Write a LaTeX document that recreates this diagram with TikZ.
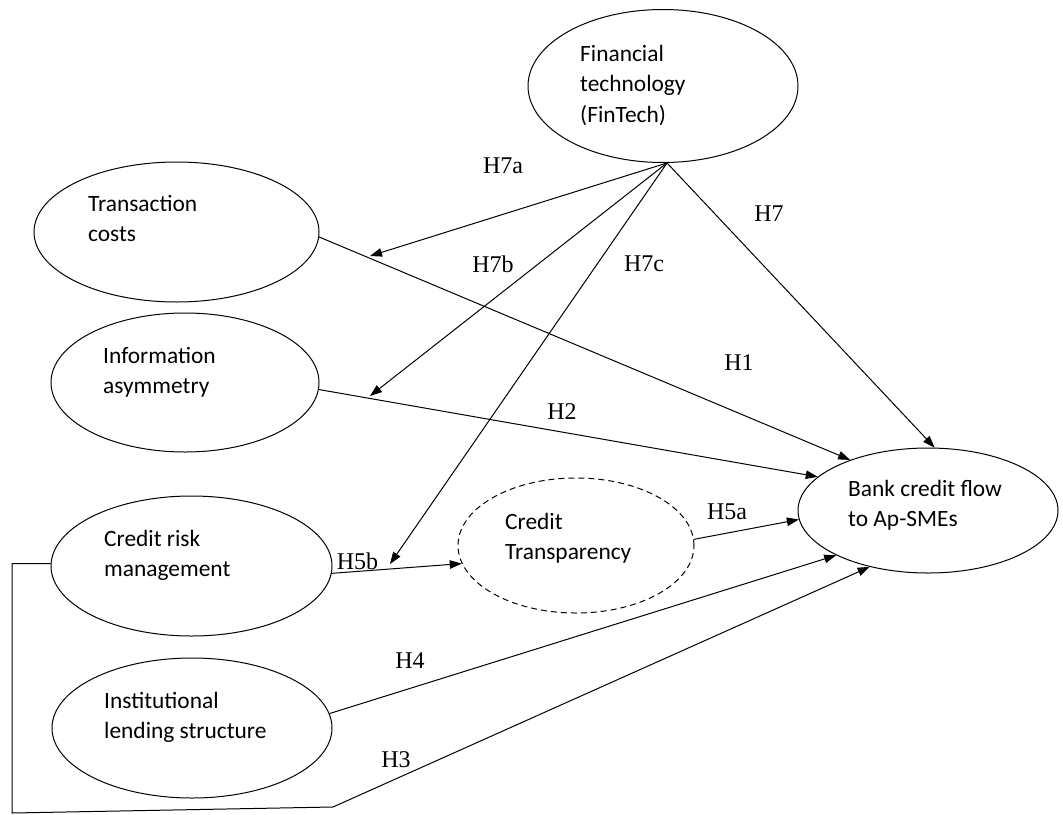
\documentclass[tikz,border=0pt]{standalone}
\usepackage{fontspec}
\setmainfont{Liberation Serif}
\newfontfamily\carl{Carlito}
\usetikzlibrary{shapes.geometric,arrows.meta}
\begin{document}
\begin{tikzpicture}[x=1pt,y=-1pt,
  oval/.style={draw, ellipse, inner sep=0pt, line width=1pt},
  ovtext/.style={anchor=north west, align=left, inner sep=0pt, font=\fontsize{23.4}{30.5}\carl},
  hyp/.style={inner sep=0pt, font=\fontsize{24}{28}\selectfont},
  arr/.style={line width=1pt, -{Triangle[length=12pt,width=8.5pt]}},
  plain/.style={line width=1pt}]
\useasboundingbox (0,0) rectangle (1063,814);
% ellipses
\node[oval, minimum width=270pt, minimum height=153pt] (fin) at (663,86) {};
\node[oval, minimum width=285pt, minimum height=140pt] (tc) at (176.5,232) {};
\node[oval, minimum width=268pt, minimum height=139pt] (ia) at (185,382.5) {};
\node[oval, minimum width=281pt, minimum height=140pt] (crm) at (191.5,566) {};
\node[oval, minimum width=280pt, minimum height=140pt] (ils) at (192,728) {};
\node[oval, dash pattern=on 6pt off 4pt, minimum width=236pt, minimum height=135pt] (ct) at (576,545.5) {};
\node[oval, minimum width=260pt, minimum height=125pt] (bank) at (928,510.5) {};
% texts
\node[ovtext] (finT) at (580,45) {Financial\\technology\\(FinTech)};
\node[ovtext] (tcT) at (88,195) {Transaction\\costs};
\node[ovtext] (iaT) at (103,347) {Information\\asymmetry};
\node[ovtext] (crmT) at (104,530) {Credit risk\\management};
\node[ovtext] (ilsT) at (104,692) {Institutional\\lending structure};
\node[ovtext] (ctT) at (505,513) {Credit\\Transparency};
\node[ovtext] (bankT) at (848,480) {Bank credit flow\\to Ap-SMEs};
% helper coordinates
\coordinate (m1) at (370,256);
\coordinate (m2) at (370,396);
\coordinate (m3) at (390,564);
\coordinate (k1) at (12,813);
\coordinate (k2) at (333,807);
% connectors
\draw[arr] (tc.-2) -- (bank.147);
\draw[arr] (ia.-3) -- (bank.163);
\draw[arr] (crm.-3) -- (ct.189);
\draw[arr] (ct.3) -- (bank.184);
\draw[arr] (ils.6) -- (bank.206);
\draw[arr] (crm.179) -| (k1) -- (k2) -- (bank.224);
\draw[arr] (fin.-87) -- (m1);
\draw[arr] (fin.-87) -- (m2);
\draw[arr] (fin.-87) -- (m3);
\draw[arr] (fin.-87) -- (bank.84);
% hypothesis labels
\node[hyp] (h7a) at (503,166) {H7a};
\node[hyp] (h7b) at (493,264) {H7b};
\node[hyp] (h7c) at (644,264) {H7c};
\node[hyp] (h7) at (769,214) {H7};
\node[hyp] (h1) at (739,363) {H1};
\node[hyp] (h2) at (562,412) {H2};
\node[hyp] (h5a) at (727,512) {H5a};
\node[hyp] (h5b) at (357.5,561) {H5b};
\node[hyp] (h4) at (410,661) {H4};
\node[hyp] (h3) at (396,760) {H3};
\end{tikzpicture}
\end{document}
